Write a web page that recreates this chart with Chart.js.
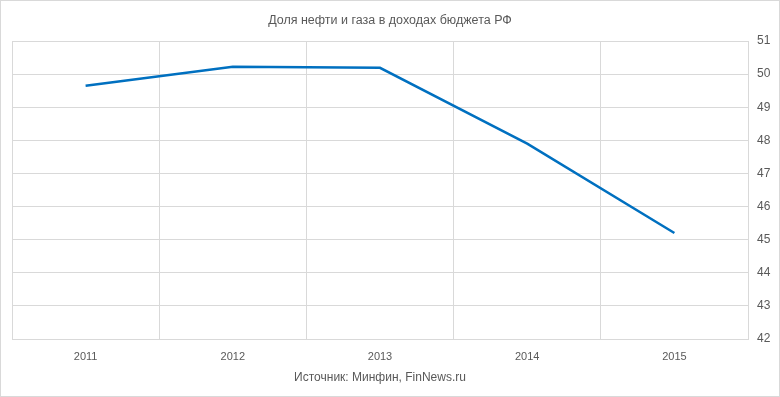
<!DOCTYPE html>
<html>
<head>
<meta charset="utf-8">
<script src="https://cdn.jsdelivr.net/npm/chart.js@4"></script>
<style>
  html, body { margin: 0; padding: 0; background: #fff; }
  #wrap { width: 780px; height: 397px; position: relative; }
</style>
</head>
<body>
<div id="wrap"><canvas id="chart" width="780" height="397"></canvas></div>
<script>
// ── Data ──────────────────────────────────────────────────────────
const years = ["2011", "2012", "2013", "2014", "2015"];
const oilGasShare = [49.65, 50.22, 50.19, 47.9, 45.2];
const yMin = 42, yMax = 51;

const TXT = "#595959";
const GRID = "#d9d9d9";
const FONT = "'Liberation Sans', Arial, sans-serif";

// outer frame round the whole chart
const framePlugin = {
  id: "frame",
  afterDraw(chart) {
    const c = chart.ctx;
    c.save();
    c.strokeStyle = GRID;
    c.lineWidth = 1;
    c.strokeRect(0.5, 0.5, chart.width - 1, chart.height - 1);
    c.restore();
  }
};

new Chart(document.getElementById("chart").getContext("2d"), {
  type: "line",
  data: {
    labels: years,
    datasets: [{
      data: oilGasShare,
      borderColor: "#0070c0",
      borderWidth: 2.5,
      pointRadius: 0,
      tension: 0,
      fill: false
    }]
  },
  options: {
    responsive: false,
    animation: false,
    layout: { padding: 0 },
    plugins: {
      legend: { display: false },
      tooltip: { enabled: false },
      title: {
        display: true,
        text: "Доля нефти и газа в доходах бюджета РФ",
        color: TXT,
        font: { family: FONT, size: 12.5, weight: "normal" },
        padding: { top: 13, bottom: 13 }
      }
    },
    scales: {
      x: {
        offset: true,
        grid: { color: GRID, offset: true, drawTicks: false },
        border: { color: GRID },
        ticks: { color: TXT, font: { family: FONT, size: 11 }, padding: 11, maxRotation: 0 },
        title: {
          display: true,
          text: "Источник: Минфин, FinNews.ru",
          color: TXT,
          font: { family: FONT, size: 12 },
          padding: { top: 7, bottom: 12 }
        },
        afterFit: s => { s.height = 58; }
      },
      y: {
        position: "right",
        min: yMin, max: yMax,
        grid: { color: GRID, drawTicks: false },
        border: { color: GRID },
        ticks: { stepSize: 1, color: TXT, font: { family: FONT, size: 12 }, padding: 9 },
        afterFit: s => { s.width = 32; }
      },
      // empty spacer on the left so the title stays centred on the whole canvas
      spacer: {
        position: "left",
        grid: { display: false },
        border: { display: false },
        ticks: { display: false },
        afterFit: s => { s.width = 12; }
      }
    }
  },
  plugins: [framePlugin]
});
</script>
</body>
</html>
